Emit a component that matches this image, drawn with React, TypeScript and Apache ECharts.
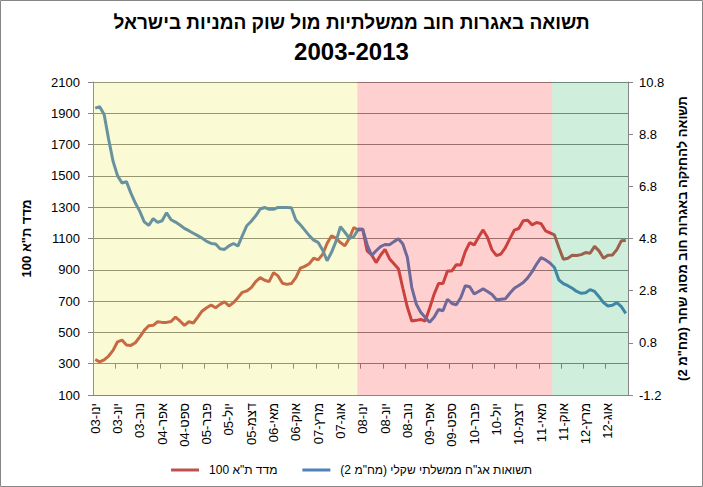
import React, { useEffect, useRef } from "react";
import * as echarts from "echarts";

const monthNames = ["ינו", "פבר", "מרץ", "אפר", "מאי", "יונ", "יול", "אוג", "ספט", "אוק", "נוב", "דצמ"];
const years = ["03", "04", "05", "06", "07", "08", "09", "10", "11", "12"];
const categories: string[] = [];
years.forEach((y) => monthNames.forEach((m) => categories.push(`${m}-${y}`)));

const titleLine1 = "תשואה באגרות חוב ממשלתיות מול שוק המניות בישראל";
const titleLine2 = "2003-2013";
const ta100Name = 'מדד ת"א 100';
const bondName = 'תשואות אג"ח ממשלתי שקלי (מח"מ 2)';
const rightAxisName = 'תשואה להחזקה באגרות חוב מסוג שחר (מח"מ 2)';

// מדד ת"א 100
const ta100 = [
  327, 312, 325, 349, 385, 440, 451, 419, 417, 434, 472, 513,
  543, 545, 568, 564, 564, 570, 598, 573, 545, 568, 560, 598,
  637, 658, 675, 658, 679, 696, 669, 690, 722, 756, 765, 786,
  824, 850, 833, 824, 882, 861, 814, 807, 812, 850, 910, 922,
  939, 974, 963, 999, 1068, 1117, 1102, 1074, 1053, 1102, 1170, 1154,
  1159, 1021, 995, 946, 993, 1031, 971, 939, 907, 782, 662, 573,
  577, 583, 573, 654, 743, 812, 812, 893, 893, 933, 931, 1016,
  1074, 1059, 1110, 1155, 1106, 1027, 991, 1001, 1042, 1099, 1153, 1164,
  1213, 1217, 1187, 1202, 1195, 1149, 1136, 1123, 1042, 967, 974, 993,
  991, 997, 1010, 1006, 1050, 1021, 974, 993, 995, 1029, 1085, 1087,
];

// תשואות אג"ח ממשלתי שקלי (מח"מ 2)
const bondYield = [
  9.8, 9.85, 9.55, 8.61, 7.76, 7.21, 6.93, 6.98, 6.54, 6.16, 5.84, 5.44,
  5.3, 5.56, 5.42, 5.48, 5.79, 5.52, 5.43, 5.32, 5.19, 5.1, 5.0, 4.91,
  4.81, 4.69, 4.61, 4.59, 4.41, 4.38, 4.52, 4.61, 4.51, 4.91, 5.29, 5.46,
  5.67, 5.93, 5.99, 5.92, 5.92, 5.99, 5.99, 5.99, 5.98, 5.51, 5.33, 5.12,
  4.91, 4.74, 4.65, 4.36, 3.95, 4.27, 4.69, 5.25, 5.04, 4.81, 4.87, 5.16,
  5.15, 4.56, 4.15, 4.33, 4.49, 4.57, 4.56, 4.68, 4.79, 4.59, 4.08, 2.93,
  2.29, 1.97, 1.78, 1.59, 1.78, 2.08, 2.03, 2.47, 2.31, 2.26, 2.54, 2.99,
  2.95, 2.67, 2.77, 2.87, 2.77, 2.65, 2.45, 2.47, 2.49, 2.7, 2.89, 3.0,
  3.11, 3.29, 3.53, 3.82, 4.07, 3.98, 3.86, 3.69, 3.21, 3.07, 2.99, 2.89,
  2.77, 2.7, 2.72, 2.84, 2.77, 2.57, 2.34, 2.21, 2.24, 2.34, 2.19, 1.93,
];

// periods (in months from the first category)
const periodStarts = [0, 59.3, 103];
const periodEnds = [59.3, 103, 120];
const periodColors = ["rgba(228,228,20,0.18)", "rgba(255,0,0,0.185)", "rgba(0,165,70,0.19)"];

const leftMin = 100;
const leftMax = 2100;
const leftInterval = 200;
const rightMin = -1.2;
const rightMax = 10.8;
const rightInterval = 2;

const FONT = "'Liberation Sans', Arial, sans-serif";
const GRAY = "#868686";

export default function App() {
  const ref = useRef<HTMLDivElement>(null);
  useEffect(() => {
    if (!ref.current) return;
    const chart = echarts.init(ref.current, null, { renderer: "svg" });
    chart.setOption({
      animation: false,
      textStyle: { fontFamily: FONT },
      title: {
        text: `{a|${titleLine1}}\n{b|${titleLine2}}`,
        left: "center",
        top: 3,
        textStyle: {
          fontFamily: FONT,
          fontWeight: "bold",
          color: "#000",
          rich: {
            a: { fontFamily: FONT, fontSize: 19, fontWeight: "bold", color: "#000", lineHeight: 29, align: "center" },
            b: { fontFamily: FONT, fontSize: 24, fontWeight: "bold", color: "#000", lineHeight: 29, align: "center" },
          },
        },
      },
      graphic: [
        {
          type: "rect",
          shape: { x: 0.5, y: 0.5, width: 702, height: 486 },
          style: { fill: "none", stroke: GRAY, lineWidth: 1 },
          silent: true,
        },
      ],
      legend: {
        data: [ta100Name, bondName],
        left: "center",
        top: 459,
        icon: "rect",
        itemWidth: 28,
        itemHeight: 3,
        itemGap: 25,
        textStyle: { fontFamily: FONT, fontSize: 12, color: "#000", padding: [0, 0, 0, 5] },
      },
      grid: { left: 93, right: 75, top: 82, bottom: 92, containLabel: false, outerBoundsMode: "none" },
      xAxis: [
        {
          type: "category",
          data: categories,
          boundaryGap: true,
          axisLine: { show: true, lineStyle: { color: GRAY } },
          axisTick: { show: true, interval: 4, length: 5, lineStyle: { color: GRAY } },
          axisLabel: { interval: 4, rotate: 90, fontSize: 13, color: "#000", margin: 8, fontFamily: FONT },
          splitLine: { show: false },
        },
        {
          type: "value",
          min: 0,
          max: categories.length,
          show: false,
        },
      ],
      yAxis: [
        {
          type: "value",
          min: leftMin,
          max: leftMax,
          interval: leftInterval,
          name: ta100Name,
          nameLocation: "middle",
          nameRotate: 90,
          nameGap: 60,
          nameTextStyle: { fontFamily: FONT, fontSize: 13, fontWeight: "bold", color: "#000" },
          axisLine: { show: true, lineStyle: { color: GRAY } },
          axisTick: { show: true, length: 5, lineStyle: { color: GRAY } },
          axisLabel: { fontSize: 13, color: "#000", margin: 13, formatter: (v: number) => String(v), fontFamily: FONT },
          splitLine: { show: true, lineStyle: { color: GRAY, width: 1 } },
        },
        {
          type: "value",
          min: rightMin,
          max: rightMax,
          interval: rightInterval,
          position: "right",
          name: rightAxisName,
          nameLocation: "middle",
          nameRotate: 90,
          nameGap: 48,
          nameTextStyle: { fontFamily: FONT, fontSize: 13, fontWeight: "bold", color: "#000" },
          axisLine: { show: true, lineStyle: { color: GRAY } },
          axisTick: { show: true, length: 5, lineStyle: { color: GRAY } },
          axisLabel: { fontSize: 13, color: "#000", margin: 11, formatter: (v: number) => v.toFixed(1), fontFamily: FONT },
          splitLine: { show: false },
        },
      ],
      series: [
        {
          name: ta100Name,
          type: "line",
          xAxisIndex: 0,
          yAxisIndex: 0,
          data: ta100,
          showSymbol: false,
          symbol: "none",
          lineStyle: { color: "#C0504D", width: 3 },
          itemStyle: { color: "#C0504D" },
          z: 2,
        },
        {
          name: bondName,
          type: "line",
          xAxisIndex: 0,
          yAxisIndex: 1,
          data: bondYield,
          showSymbol: false,
          symbol: "none",
          lineStyle: { color: "#4F81BD", width: 3 },
          itemStyle: { color: "#4F81BD" },
          z: 2,
        },
        {
          name: "periods",
          type: "line",
          xAxisIndex: 1,
          yAxisIndex: 0,
          data: [],
          z: 10,
          silent: true,
          markArea: {
            silent: true,
            z: 10,
            data: periodStarts.map((s, i) => [
              { xAxis: s, itemStyle: { color: periodColors[i] } },
              { xAxis: periodEnds[i] },
            ]),
          },
        },
      ],
    });
    return () => chart.dispose();
  }, []);
  return <div ref={ref} style={{ position: "absolute", left: 0, top: 0, width: 703, height: 487 }} />;
}
